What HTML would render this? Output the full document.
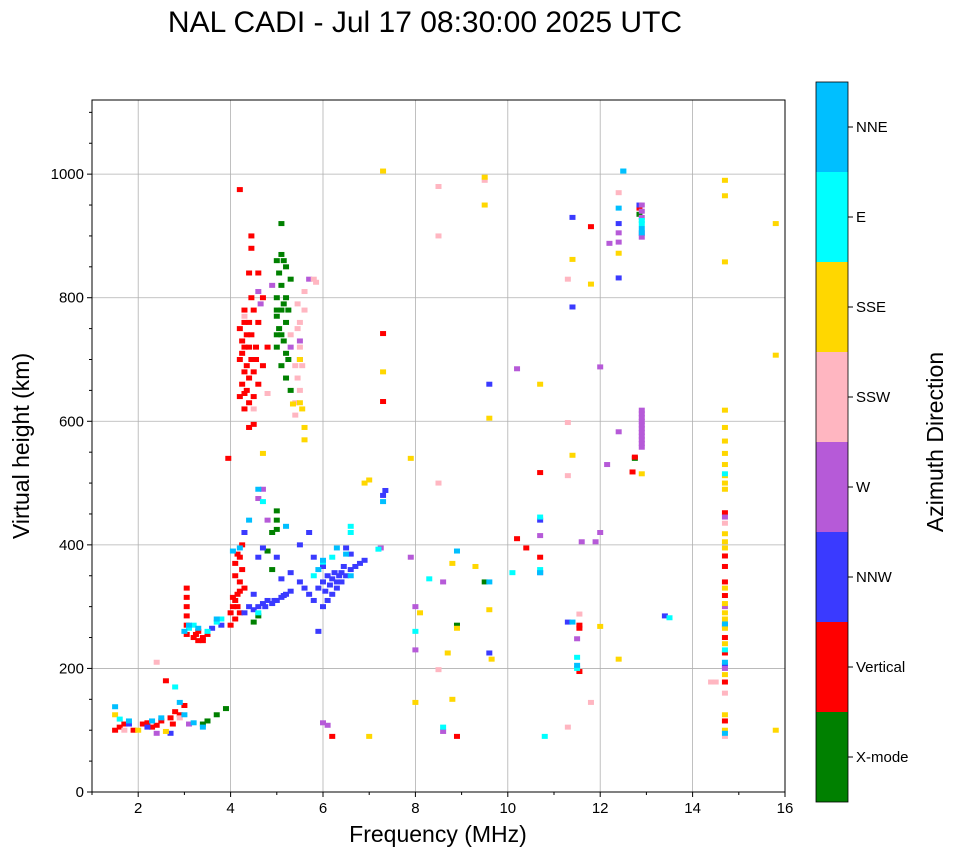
<!DOCTYPE html>
<html><head><meta charset="utf-8"><style>
html,body{margin:0;padding:0;background:#fff;}
svg{display:block;font-family:"Liberation Sans","DejaVu Sans",sans-serif;}
</style></head><body>
<svg id="chart" width="958" height="857" viewBox="0 0 958 857" xmlns="http://www.w3.org/2000/svg">
<text x="425" y="32" font-size="30" text-anchor="middle">NAL CADI - Jul 17 08:30:00 2025 UTC</text>
<g id="grid"></g>
<g id="marks"></g>
<rect x="92" y="100" width="693" height="692" fill="none" stroke="#000" stroke-width="1"/>
<g id="axes"></g>
<text x="438" y="842" font-size="23" text-anchor="middle">Frequency (MHz)</text>
<text transform="translate(29,446) rotate(-90)" font-size="23" text-anchor="middle">Virtual height (km)</text>
<g id="cbar"></g>
<text transform="translate(943,442) rotate(-90)" font-size="23" text-anchor="middle">Azimuth Direction</text>
</svg>
<script>
const xTicks=[2,4,6,8,10,12,14,16];
const yTicks=[0,200,400,600,800,1000];
const dirNames=["X-mode","Vertical","NNW","W","SSW","SSE","E","NNE"];
const dirColors=["#008000","#ff0000","#3a3aff","#b65ad8","#ffb6c1","#ffd700","#00ffff","#00bfff"];
const xmode=[[3.4,110],[3.7,125],[3.9,135],[3.5,115],[4.5,275],[4.6,285],[5.0,440],[5.0,455],[5.0,425],[4.9,420],[4.8,390],[4.9,360],[5.0,860],[5.1,870],[5.2,850],[5.1,820],[5.0,800],[5.15,790],[5.0,770],[5.2,760],[5.1,740],[5.0,720],[5.2,710],[5.1,690],[5.2,670],[5.3,650],[5.3,830],[5.25,780],[5.1,920],[5.0,740],[5.05,750],[5.15,730],[5.1,780],[5.2,800],[5.05,840],[5.25,700],[5.0,780],[5.15,860],[8.9,270],[9.5,340],[12.85,935],[12.75,540]];
const vertical=[[1.5,100],[1.6,105],[1.7,110],[1.9,100],[2.1,110],[2.3,105],[2.5,115],[2.7,120],[2.8,130],[2.9,125],[3.0,140],[2.6,180],[2.2,112],[2.4,108],[2.75,110],[3.05,330],[3.05,315],[3.05,300],[3.05,285],[3.05,270],[3.05,255],[3.2,250],[3.3,245],[3.4,250],[3.5,255],[3.3,260],[3.4,245],[3.25,255],[4.0,270],[4.0,290],[4.05,300],[4.1,310],[4.15,320],[4.2,340],[4.25,360],[4.2,380],[4.1,370],[4.15,300],[4.25,400],[4.3,330],[4.2,290],[4.1,280],[4.1,350],[4.2,325],[4.05,315],[4.15,385],[3.95,540],[4.2,975],[4.2,640],[4.25,660],[4.3,680],[4.2,700],[4.3,720],[4.35,740],[4.2,750],[4.4,760],[4.4,720],[4.45,700],[4.5,680],[4.35,650],[4.5,640],[4.4,590],[4.5,595],[4.3,620],[4.55,700],[4.6,760],[4.45,800],[4.4,840],[4.45,880],[4.45,900],[4.6,840],[4.5,780],[4.7,800],[4.8,720],[4.6,660],[4.7,690],[4.3,780],[4.4,670],[4.25,710],[4.35,690],[4.25,730],[4.3,645],[4.45,740],[4.55,720],[4.4,630],[4.3,760],[7.3,742],[7.3,632],[8.9,90],[10.7,517],[10.7,380],[10.2,410],[10.4,395],[11.55,270],[11.55,195],[11.8,915],[12.7,518],[12.75,542],[12.85,945],[14.7,452],[14.7,382],[14.7,365],[14.7,340],[14.7,318],[14.7,270],[14.7,250],[14.7,225],[14.7,178],[14.7,115],[6.2,90],[11.55,265]];
const nnw=[[1.8,110],[2.2,105],[2.7,95],[3.8,270],[3.6,265],[4.4,300],[4.5,295],[4.6,300],[4.7,305],[4.8,310],[4.9,305],[5.0,310],[5.1,315],[5.2,320],[5.3,325],[4.3,290],[4.5,320],[4.6,380],[4.7,395],[4.3,420],[4.75,300],[4.95,310],[5.15,318],[5.5,340],[5.6,330],[5.7,320],[5.8,310],[5.9,330],[6.0,340],[6.1,350],[6.2,345],[6.3,340],[6.4,355],[6.5,350],[6.6,360],[6.7,365],[6.8,370],[6.9,375],[6.0,300],[6.1,310],[6.2,320],[6.3,330],[6.4,340],[6.05,325],[6.25,355],[6.45,365],[6.15,335],[6.35,350],[5.9,260],[6.0,365],[5.8,380],[5.5,400],[6.6,385],[5.3,355],[5.1,345],[5.7,420],[6.5,395],[5.0,380],[7.3,480],[7.35,488],[9.6,660],[9.6,225],[10.7,440],[11.4,930],[11.4,785],[11.3,275],[12.4,920],[12.4,832],[12.85,950],[13.4,285],[14.7,205],[10.7,355]];
const wdir=[[2.4,95],[3.1,110],[4.6,475],[4.7,490],[4.8,440],[4.6,810],[4.65,790],[4.9,820],[5.3,720],[5.5,700],[5.7,830],[5.5,730],[6.0,112],[6.1,108],[7.25,395],[7.9,380],[8.0,300],[8.0,230],[8.6,340],[8.6,98],[10.2,685],[10.7,415],[11.5,248],[11.6,405],[12.0,420],[12.0,688],[12.4,905],[12.4,890],[12.2,888],[12.15,530],[12.4,583],[11.9,405],[14.7,445],[14.7,300],[14.7,200],[12.9,558],[12.9,564],[12.9,570],[12.9,576],[12.9,582],[12.9,588],[12.9,594],[12.9,600],[12.9,606],[12.9,612],[12.9,618],[12.9,898],[12.9,904],[12.9,930],[12.9,940],[12.9,950]];
const ssw=[[1.7,100],[2.4,210],[2.9,120],[4.3,770],[4.5,620],[4.8,645],[5.4,610],[5.4,630],[5.5,650],[5.45,670],[5.4,690],[5.5,720],[5.5,760],[5.45,790],[5.6,810],[5.8,830],[5.85,825],[5.3,740],[5.6,780],[5.45,750],[5.55,690],[8.5,980],[8.5,900],[8.5,500],[8.5,198],[9.5,990],[11.3,830],[11.3,598],[11.3,512],[11.3,105],[11.55,288],[11.8,145],[12.4,970],[14.4,178],[14.5,178],[14.7,435],[14.7,160],[14.7,90]];
const sse=[[1.5,125],[2.0,100],[2.6,98],[4.7,548],[5.5,700],[5.6,590],[5.5,630],[5.6,570],[5.55,620],[5.35,628],[6.9,500],[7.0,505],[7.3,1005],[7.3,680],[7.9,540],[8.1,290],[8.8,150],[8.7,225],[8.8,370],[8.9,265],[9.3,365],[9.5,950],[9.5,995],[9.6,605],[9.6,295],[9.65,215],[10.7,660],[11.4,545],[11.4,862],[11.8,822],[12.0,268],[12.4,872],[12.4,215],[12.9,515],[14.7,990],[14.7,965],[14.7,858],[14.7,618],[14.7,590],[14.7,568],[14.7,548],[14.7,530],[14.7,512],[14.7,500],[14.7,490],[14.7,418],[14.7,405],[14.7,395],[14.7,330],[14.7,305],[14.7,290],[14.7,280],[14.7,265],[14.7,240],[14.7,190],[14.7,125],[14.7,100],[15.8,920],[15.8,707],[15.8,100],[7.0,90],[8.0,145]];
const edir=[[1.6,118],[2.8,170],[3.1,265],[3.2,270],[3.5,260],[3.7,275],[3.8,280],[4.6,290],[4.7,470],[5.8,350],[6.0,372],[6.2,380],[6.6,430],[6.6,420],[7.2,393],[8.0,260],[8.3,345],[8.6,105],[10.1,355],[10.7,445],[10.7,360],[10.8,90],[11.5,218],[11.5,200],[12.5,1005],[12.9,925],[12.9,920],[14.7,515],[14.7,230],[13.5,282]];
const nne=[[1.5,138],[1.8,115],[2.3,115],[2.5,120],[2.9,145],[3.0,125],[3.2,112],[3.4,105],[3.0,260],[3.1,270],[3.3,265],[3.7,280],[4.05,390],[4.2,395],[4.4,440],[4.6,490],[5.2,430],[5.9,360],[6.0,375],[6.3,395],[6.5,385],[6.6,350],[7.3,470],[8.9,390],[9.6,340],[10.7,355],[11.4,275],[12.4,945],[12.5,1005],[12.9,912],[12.9,905],[14.7,272],[14.7,210],[14.7,95],[11.5,205]];
const series=[xmode,vertical,nnw,wdir,ssw,sse,edir,nne];

const NS="http://www.w3.org/2000/svg";
const X0=92,X1=785,Y0=792,Y1=100,XMIN=1,XMAX=16,YMIN=0,YMAX=1120;
function xs(f){return X0+(f-XMIN)/(XMAX-XMIN)*(X1-X0);}
function ys(h){return Y0-(h-YMIN)/(YMAX-YMIN)*(Y0-Y1);}
function mk(tag,attrs,parent){const e=document.createElementNS(NS,tag);for(const k in attrs)e.setAttribute(k,attrs[k]);parent.appendChild(e);return e;}
const grid=document.getElementById('grid'),axes=document.getElementById('axes'),marks=document.getElementById('marks'),cbar=document.getElementById('cbar');
xTicks.forEach(t=>{
  const x=xs(t);
  if(t<XMAX){const g=mk('line',{x1:x,x2:x,y1:Y1,y2:Y0,stroke:'#b0b0b0','stroke-width':0.8},grid);
  
  }
  const tk=mk('line',{x1:x,x2:x,y1:Y0,y2:Y0+5,stroke:'#000'},axes);
  
  
  const lb=mk('text',{x:x,y:Y0+21,'font-size':15,'text-anchor':'middle'},axes);lb.textContent=t;
  
  
});
for(let t=1;t<=15;t+=2){const x=xs(t);const m=mk('line',{x1:x,x2:x,y1:Y0,y2:Y0+3,stroke:'#000'},axes);
  
  }
yTicks.forEach(t=>{
  const y=ys(t);
  if(t>0){const g=mk('line',{x1:X0,x2:X1,y1:y,y2:y,stroke:'#b0b0b0','stroke-width':0.8},grid);
  
  }
  const tk=mk('line',{x1:X0-5,x2:X0,y1:y,y2:y,stroke:'#000'},axes);
  
  
  const lb=mk('text',{x:X0-8,y:y+5,'font-size':15,'text-anchor':'end'},axes);lb.textContent=t;
  
  
});
for(let t=50;t<=1100;t+=50){if(t%200===0)continue;const y=ys(t);const m=mk('line',{x1:X0-3,x2:X0,y1:y,y2:y,stroke:'#000'},axes);
  
  }
series.forEach((arr,i)=>{
  arr.forEach(p=>{
    const r=mk('rect',{x:xs(p[0])-3,y:ys(p[1])-2.5,width:6,height:5,fill:dirColors[i]},marks);
    
    
  });
});
const CB0=802,CBH=90;
dirNames.forEach((n,i)=>{
  const y=CB0-(i+1)*CBH;
  const r=mk('rect',{x:816,y:y,width:32,height:CBH,fill:dirColors[i]},cbar);
  
  
  const tk=mk('line',{x1:848,x2:853,y1:y+CBH/2,y2:y+CBH/2,stroke:'#000'},cbar);
  
  
  const lb=mk('text',{x:856,y:y+CBH/2+5,'font-size':15},cbar);lb.textContent=n;
  
  
});
const fr=mk('rect',{x:816,y:82,width:32,height:720,fill:'none',stroke:'#000','stroke-width':0.8},cbar);


</script>
</body></html>
